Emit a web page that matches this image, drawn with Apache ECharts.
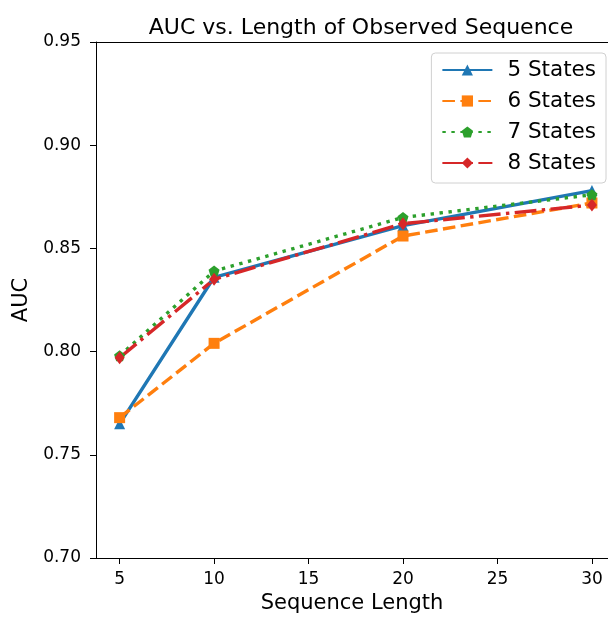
<!DOCTYPE html>
<html>
<head>
<meta charset="utf-8">
<script src="https://cdn.jsdelivr.net/npm/echarts@6/dist/echarts.min.js"></script>
<style>html,body{margin:0;padding:0;background:#fff}#c{width:608px;height:619px}</style>
</head>
<body>
<div id="c"></div>
<script>
var seqLengths = [5, 10, 20, 30];
var states5 = [0.765, 0.836, 0.861, 0.878];
var states6 = [0.768, 0.804, 0.856, 0.872];
var states7 = [0.798, 0.839, 0.865, 0.876];
var states8 = [0.797, 0.835, 0.862, 0.871];
var xTicks = [5, 10, 15, 20, 25, 30];
var seriesNames = ['5 States', '6 States', '7 States', '8 States'];

var FONT = 'DejaVu Sans';
function pairs(ys) { return seqLengths.map(function (x, i) { return [x, ys[i]]; }); }
var pentagon = 'path://M0,-1L0.951,-0.309L0.588,0.809L-0.588,0.809L-0.951,-0.309Z';

var chart = echarts.init(document.getElementById('c'), null, {renderer: 'canvas'});
chart.setOption({
  animation: false,
  backgroundColor: '#fff',
  title: {
    text: 'AUC vs. Length of Observed Sequence',
    left: 356, top: 12, textAlign: 'center',
    textStyle: {fontFamily: FONT, fontSize: 22, fontWeight: 'normal', color: '#000'}
  },
  legend: {
    orient: 'vertical', right: 2, top: 53,
    backgroundColor: 'rgba(255,255,255,0.8)',
    borderColor: '#d0d0d0', borderWidth: 1, borderRadius: 4,
    padding: [6, 10, 9, 10],
    itemWidth: 50, itemHeight: 14, itemGap: 9,
    textStyle: {fontFamily: FONT, fontSize: 21.5, color: '#000', padding: [0, 0, 0, 10]},
    data: seriesNames
  },
  grid: {left: 96, top: 42, right: 0, bottom: 57, containLabel: false},
  xAxis: [{
    type: 'value', min: 3.75, max: 30.85,
    name: 'Sequence Length', nameLocation: 'middle', nameGap: 35,
    nameTextStyle: {fontFamily: FONT, fontSize: 21, color: '#000'},
    axisLine: {show: true, lineStyle: {color: '#000', width: 1}},
    axisTick: {show: true, length: 6, customValues: xTicks, lineStyle: {color: '#000'}},
    axisLabel: {show: true, customValues: xTicks, fontFamily: FONT, fontSize: 17, color: '#000', margin: 13},
    splitLine: {show: false}
  }, {
    type: 'value', position: 'top', min: 3.75, max: 30.85,
    axisLine: {show: true, onZero: false, lineStyle: {color: '#000', width: 1}},
    axisTick: {show: false}, axisLabel: {show: false}, splitLine: {show: false}
  }],
  yAxis: {
    type: 'value', min: 0.70, max: 0.95, interval: 0.05,
    name: 'AUC', nameLocation: 'middle', nameGap: 64, nameRotate: 90,
    nameTextStyle: {fontFamily: FONT, fontSize: 21, color: '#000'},
    axisLine: {show: true, lineStyle: {color: '#000', width: 1}},
    axisTick: {show: true, length: 6, lineStyle: {color: '#000'}},
    axisLabel: {fontFamily: FONT, fontSize: 17, color: '#000', margin: 15,
      formatter: function (v) { return v.toFixed(2); }},
    splitLine: {show: false}
  },
  series: [
    {name: seriesNames[0], type: 'line', data: pairs(states5), color: '#1f77b4',
      symbol: 'triangle', symbolSize: 11,
      lineStyle: {width: 3.4, type: 'solid'}, itemStyle: {color: '#1f77b4'}},
    {name: seriesNames[1], type: 'line', data: pairs(states6), color: '#ff7f0e',
      symbol: 'rect', symbolSize: 11,
      lineStyle: {width: 3.4, type: [12.6, 5.4]}, itemStyle: {color: '#ff7f0e'}},
    {name: seriesNames[2], type: 'line', data: pairs(states7), color: '#2ca02c',
      symbol: pentagon, symbolSize: 11,
      lineStyle: {width: 3.4, type: [3.4, 5.6]}, itemStyle: {color: '#2ca02c'}},
    {name: seriesNames[3], type: 'line', data: pairs(states8), color: '#d62728',
      symbol: 'diamond', symbolSize: [10, 13],
      lineStyle: {width: 3.4, type: [21.8, 5.4, 3.4, 5.4]}, itemStyle: {color: '#d62728'}}
  ]
});
</script>
</body>
</html>
